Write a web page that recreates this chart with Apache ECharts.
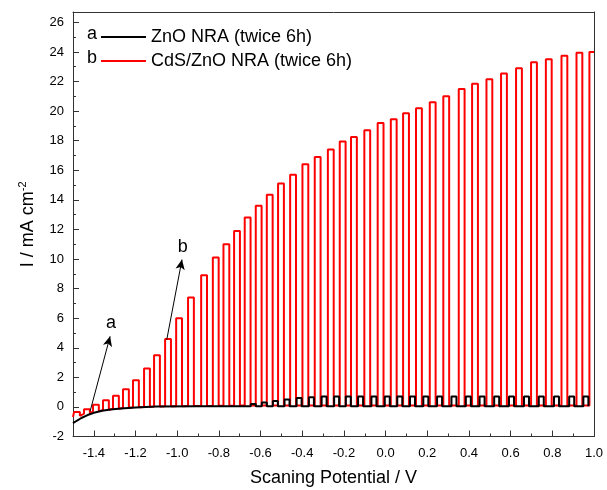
<!DOCTYPE html>
<html>
<head>
<meta charset="utf-8">
<script src="https://cdn.jsdelivr.net/npm/echarts@6/dist/echarts.min.js"></script>
<style>
  html, body { margin: 0; padding: 0; background: #fff; }
  #chart { width: 607px; height: 490px; }
</style>
</head>
<body>
<div id="chart"></div>
<script>
// axis ticks
const xLabels = [-1.4, -1.2, -1.0, -0.8, -0.6, -0.4, -0.2, 0.0, 0.2, 0.4, 0.6, 0.8, 1.0];
const xMinor = [-1.3, -1.1, -0.9, -0.7, -0.5, -0.3, -0.1, 0.1, 0.3, 0.5, 0.7, 0.9];
const yLabels = [-2, 0, 2, 4, 6, 8, 10, 12, 14, 16, 18, 20, 22, 24, 26];
const yMinor = [-1, 1, 3, 5, 7, 9, 11, 13, 15, 17, 19, 21, 23, 25];

// b: CdS/ZnO NRA, chopped light pulses (potential where light goes on / off)
const redStart = [-1.5, -0.68];
const redOn = [-1.495, -1.447, -1.404, -1.356, -1.308, -1.260, -1.212, -1.159, -1.111, -1.058,
  -1.005, -0.948, -0.885, -0.829, -0.778, -0.727, -0.676, -0.623, -0.570, -0.516,
  -0.458, -0.399, -0.340, -0.277, -0.220, -0.166, -0.102, -0.038, 0.025, 0.084,
  0.146, 0.212, 0.277, 0.351, 0.415, 0.484, 0.554, 0.626, 0.698, 0.769,
  0.844, 0.916, 0.978];
const redOff = [-1.467, -1.419, -1.376, -1.328, -1.280, -1.232, -1.184, -1.131, -1.083, -1.030,
  -0.977, -0.920, -0.857, -0.801, -0.750, -0.699, -0.648, -0.595, -0.542, -0.488,
  -0.430, -0.371, -0.312, -0.249, -0.192, -0.138, -0.074, -0.010, 0.053, 0.112,
  0.174, 0.240, 0.305, 0.379, 0.443, 0.512, 0.582, 0.654, 0.726, 0.797,
  0.872, 0.944, 1.0];
const redTop = [-0.35, -0.15, 0.15, 0.45, 0.75, 1.2, 1.8, 2.6, 3.5, 4.6,
  6.0, 7.4, 8.9, 10.1, 11.0, 11.9, 12.8, 13.6, 14.35, 15.1,
  15.7, 16.4, 16.9, 17.4, 17.95, 18.25, 18.7, 19.2, 19.45, 19.85,
  20.2, 20.6, 21.0, 21.5, 21.85, 22.15, 22.55, 22.9, 23.3, 23.5,
  23.75, 23.95, 24.0];
const redDark = [-0.6, -0.45, -0.3, -0.2, -0.12, -0.07, -0.03, 0.0, 0.02, 0.04,
  0.05, 0.06, 0.07, 0.08, 0.08, 0.09, 0.09, 0.1, 0.1, 0.1,
  0.1, 0.1, 0.1, 0.1, 0.1, 0.1, 0.1, 0.1, 0.1, 0.1,
  0.1, 0.1, 0.1, 0.1, 0.1, 0.1, 0.1, 0.1, 0.1, 0.1,
  0.1, 0.1, 0.1];

// a: ZnO NRA, dark part then small light pulses
const blackDark = [[-1.5, -1.1], [-1.48, -0.92], [-1.46, -0.75], [-1.43, -0.55], [-1.4, -0.4],
  [-1.36, -0.26], [-1.32, -0.17], [-1.27, -0.1], [-1.2, -0.04], [-1.1, 0.02],
  [-0.9, 0.05], [-0.7, 0.05]];
const blackBase = 0.04;
const blackOn = [-0.647, -0.594, -0.541, -0.485, -0.427, -0.368, -0.307, -0.247, -0.191, -0.132,
  -0.068, -0.004, 0.056, 0.117, 0.181, 0.247, 0.316, 0.385, 0.451, 0.521,
  0.592, 0.664, 0.735, 0.808, 0.881, 0.949];
const blackOff = [-0.623, -0.570, -0.517, -0.461, -0.403, -0.344, -0.283, -0.223, -0.167, -0.108,
  -0.044, 0.020, 0.080, 0.141, 0.205, 0.271, 0.340, 0.409, 0.475, 0.545,
  0.616, 0.688, 0.759, 0.832, 0.905, 0.973];
const blackTop = [0.2, 0.3, 0.4, 0.5, 0.6, 0.65, 0.7, 0.7, 0.7, 0.7,
  0.7, 0.7, 0.7, 0.7, 0.7, 0.7, 0.7, 0.7, 0.7, 0.7,
  0.7, 0.7, 0.7, 0.7, 0.7, 0.7];

const nameA = "ZnO NRA (twice 6h)";
const nameB = "CdS/ZnO NRA (twice 6h)";

function pulseTrace(head, on, off, top, dark) {
  const pts = head.slice();
  for (let i = 0; i < on.length; i++) {
    const d = Array.isArray(dark) ? dark[i] : dark;
    pts.push([on[i], d], [on[i], top[i]], [off[i], top[i]]);
    if (off[i] < 1.0) pts.push([off[i], d]);
  }
  return pts;
}

const redData = pulseTrace([redStart], redOn, redOff, redTop, redDark);
const blackData = pulseTrace(blackDark, blackOn, blackOff, blackTop, blackBase);

const FONT = "'Liberation Sans', Arial, sans-serif";
const AXIS_COLOR = "#333";

function frameAxis(min, max, position) {
  return {
    type: "value",
    min,
    max,
    position,
    axisLine: { show: true, onZero: false, lineStyle: { color: AXIS_COLOR, width: 1 } },
    axisTick: { show: false },
    axisLabel: { show: false },
    splitLine: { show: false },
  };
}

function minorAxis(min, max, position, ticks) {
  return {
    type: "value",
    min,
    max,
    position,
    axisLine: { show: false, onZero: false },
    axisTick: { show: true, inside: true, length: 3, customValues: ticks, lineStyle: { color: AXIS_COLOR } },
    axisLabel: { show: false },
    splitLine: { show: false },
  };
}

const chart = echarts.init(document.getElementById("chart"), null, { renderer: "canvas" });

chart.setOption({
  animation: false,
  backgroundColor: "#fff",
  textStyle: { fontFamily: FONT, color: "#000" },
  grid: { left: 73, right: 13, top: 12, bottom: 53.5, containLabel: false, outerBoundsMode: "none" },
  legend: {
    data: [
      { name: nameA, icon: "rect" },
      { name: nameB, icon: "rect" },
    ],
    orient: "vertical",
    left: 96,
    top: 22,
    itemWidth: 45,
    itemHeight: 2,
    itemGap: 4,
    textStyle: { fontSize: 18, color: "#000", fontFamily: FONT, lineHeight: 20 },
    selectedMode: false,
  },
  graphic: [
    { type: "text", left: 87, top: 25, style: { text: "a", fontSize: 18, fontFamily: FONT, fill: "#000" } },
    { type: "text", left: 87, top: 49, style: { text: "b", fontSize: 18, fontFamily: FONT, fill: "#000" } },
  ],
  xAxis: [
    {
      type: "value",
      min: -1.5,
      max: 1.0,
      position: "bottom",
      name: "Scaning Potential / V",
      nameLocation: "middle",
      nameGap: 33,
      nameTextStyle: { fontSize: 18, color: "#000", fontFamily: FONT },
      axisLine: { show: true, onZero: false, lineStyle: { color: AXIS_COLOR, width: 1 } },
      axisTick: { show: true, inside: true, length: 6, customValues: xLabels, lineStyle: { color: AXIS_COLOR } },
      axisLabel: {
        customValues: xLabels,
        fontSize: 13,
        color: "#000",
        margin: 10,
        formatter: (v) => v.toFixed(1),
      },
      splitLine: { show: false },
    },
    minorAxis(-1.5, 1.0, "bottom", xMinor),
    frameAxis(-1.5, 1.0, "top"),
  ],
  yAxis: [
    {
      type: "value",
      min: -2,
      max: 26.7,
      position: "left",
      name: "{m|I / mA cm}{s|-2}",
      nameLocation: "middle",
      nameRotate: 90,
      nameGap: 36,
      nameTextStyle: {
        rich: {
          m: { fontSize: 18, color: "#000", fontFamily: FONT, lineHeight: 20, verticalAlign: "bottom" },
          s: { fontSize: 11, color: "#000", fontFamily: FONT, lineHeight: 20, verticalAlign: "top" },
        },
      },
      axisLine: { show: true, onZero: false, lineStyle: { color: AXIS_COLOR, width: 1 } },
      axisTick: { show: true, inside: true, length: 6, customValues: yLabels, lineStyle: { color: AXIS_COLOR } },
      axisLabel: { customValues: yLabels, fontSize: 13, color: "#000", margin: 9 },
      splitLine: { show: false },
    },
    minorAxis(-2, 26.7, "left", yMinor),
    frameAxis(-2, 26.7, "right"),
  ],
  series: [
    {
      name: nameB,
      type: "line",
      data: redData,
      xAxisIndex: 0,
      yAxisIndex: 0,
      showSymbol: false,
      symbol: "none",
      clip: true,
      lineStyle: { color: "#ff0000", width: 2 },
      itemStyle: { color: "#ff0000" },
      emphasis: { disabled: true },
    },
    {
      name: nameA,
      type: "line",
      data: blackData,
      xAxisIndex: 0,
      yAxisIndex: 0,
      showSymbol: false,
      symbol: "none",
      clip: true,
      lineStyle: { color: "#000", width: 2 },
      itemStyle: { color: "#000" },
      emphasis: { disabled: true },
      markLine: {
        silent: true,
        symbol: ["none", "arrow"],
        symbolSize: [7, 10],
        lineStyle: { color: "#000", width: 1, type: "solid" },
        label: {
          show: true,
          position: "end",
          distance: 4,
          fontSize: 18,
          color: "#000",
          fontFamily: FONT,
          formatter: (p) => p.name,
        },
        data: [
          [{ name: "a", coord: [-1.418, -0.3] }, { name: "a", coord: [-1.322, 4.77] }],
          [{ name: "b", coord: [-1.05, 4.55] }, { name: "b", coord: [-0.977, 9.96] }],
        ],
      },
    },
  ],
});
</script>
</body>
</html>
